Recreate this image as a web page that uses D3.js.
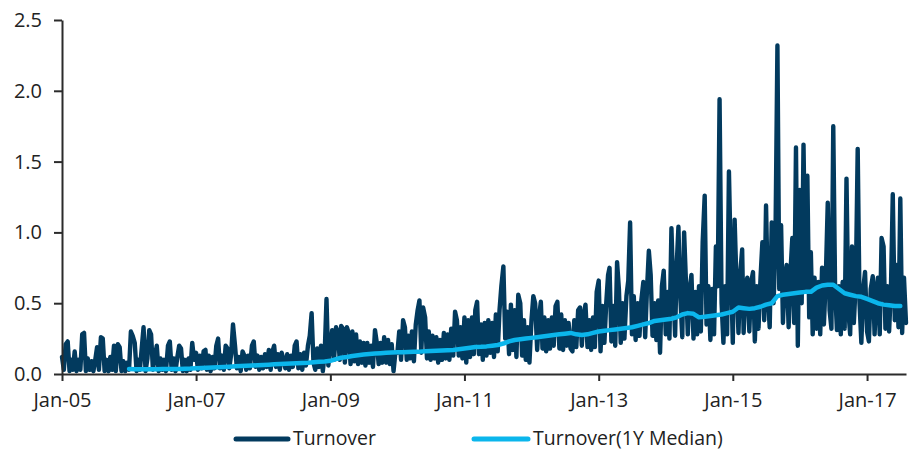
<!DOCTYPE html>
<html><head><meta charset="utf-8">
<script src="https://cdn.jsdelivr.net/npm/d3@7/dist/d3.min.js"></script>
<style>
html,body{margin:0;padding:0;background:#fff;}
svg text{font-family:"Open Sans",sans-serif;}
</style></head>
<body><svg id="chart" width="912" height="450"></svg>
<script>
// Turnover, ~3 readings per month (1st, 11th, 21st), by year
const turnover2005 = [0.12,0.03,0.21,0.23,0.02,0.10,0.03,0.16,0.02,0.10,0.03,0.28,0.29,0.02,0.11,0.03,0.09,0.02,0.10,0.19,0.03,0.26,0.25,0.02,0.10,0.02,0.12,0.03,0.20,0.02,0.21,0.19,0.02,0.09,0.02,0.08];
const turnover2006 = [0.03,0.30,0.27,0.22,0.02,0.10,0.03,0.18,0.33,0.02,0.11,0.31,0.28,0.03,0.12,0.20,0.02,0.11,0.03,0.10,0.02,0.20,0.23,0.03,0.11,0.02,0.12,0.20,0.18,0.02,0.10,0.02,0.11,0.03,0.22,0.10];
const turnover2007 = [0.15,0.03,0.13,0.04,0.16,0.17,0.03,0.13,0.02,0.12,0.04,0.20,0.25,0.04,0.13,0.03,0.20,0.18,0.04,0.14,0.35,0.20,0.04,0.12,0.02,0.16,0.13,0.03,0.13,0.04,0.20,0.23,0.05,0.13,0.03,0.12];
const turnover2008 = [0.04,0.14,0.05,0.17,0.03,0.16,0.20,0.05,0.14,0.03,0.15,0.10,0.04,0.14,0.03,0.13,0.05,0.20,0.23,0.04,0.14,0.03,0.15,0.06,0.20,0.27,0.43,0.08,0.03,0.18,0.05,0.20,0.02,0.14,0.53,0.06];
const turnover2009 = [0.20,0.31,0.10,0.33,0.30,0.10,0.34,0.32,0.08,0.33,0.29,0.07,0.30,0.09,0.28,0.07,0.23,0.08,0.22,0.06,0.22,0.08,0.20,0.05,0.31,0.22,0.07,0.22,0.08,0.26,0.08,0.24,0.07,0.21,0.02,0.15];
const turnover2010 = [0.15,0.30,0.10,0.38,0.33,0.10,0.27,0.11,0.30,0.09,0.35,0.45,0.52,0.15,0.47,0.40,0.11,0.30,0.10,0.27,0.11,0.26,0.08,0.24,0.10,0.29,0.11,0.28,0.10,0.32,0.13,0.44,0.38,0.13,0.33,0.11];
const turnover2011 = [0.40,0.08,0.38,0.12,0.40,0.14,0.45,0.51,0.14,0.35,0.10,0.36,0.13,0.38,0.15,0.36,0.12,0.42,0.16,0.45,0.62,0.76,0.25,0.44,0.14,0.49,0.17,0.45,0.12,0.56,0.50,0.13,0.38,0.10,0.33,0.08];
const turnover2012 = [0.38,0.55,0.50,0.17,0.40,0.51,0.18,0.40,0.16,0.38,0.18,0.40,0.20,0.48,0.51,0.18,0.42,0.17,0.38,0.20,0.36,0.18,0.16,0.38,0.19,0.45,0.47,0.20,0.42,0.49,0.19,0.38,0.17,0.40,0.19,0.58];
const turnover2013 = [0.66,0.16,0.48,0.22,0.50,0.70,0.75,0.23,0.48,0.20,0.79,0.60,0.22,0.50,0.25,0.55,0.66,1.07,0.28,0.55,0.24,0.50,0.27,0.52,0.65,0.26,0.60,0.87,0.70,0.27,0.50,0.24,0.52,0.15,0.62,0.73];
const turnover2014 = [0.28,0.58,0.25,1.03,0.60,0.27,0.75,1.04,0.55,0.26,1.00,0.65,0.28,0.60,0.70,0.25,0.58,0.28,0.62,0.30,0.93,1.26,0.35,0.62,0.24,0.60,0.28,0.90,0.62,1.94,0.50,0.22,0.62,0.28,1.43,0.80];
const turnover2015 = [0.22,1.09,0.65,0.29,0.72,0.88,0.29,0.62,0.68,0.30,0.65,0.72,0.23,0.62,0.32,0.68,0.93,0.38,1.19,0.55,0.33,1.07,0.50,0.90,2.32,0.60,1.05,0.36,0.68,0.77,0.33,0.72,0.96,0.36,1.60,0.20];
const turnover2016 = [1.30,0.50,1.62,0.60,1.40,0.40,0.86,0.28,0.68,0.32,0.65,0.28,0.75,0.35,0.66,1.21,0.45,0.32,1.75,0.60,0.31,0.62,0.28,0.65,0.32,1.38,0.45,0.28,0.90,0.36,0.66,1.59,0.50,0.22,0.60,0.72];
const turnover2017 = [0.30,0.23,0.60,0.69,0.28,0.60,0.68,0.28,0.96,0.90,0.32,0.62,0.30,0.60,1.27,0.38,0.77,0.33,1.24,0.29,0.68,0.36];

// Turnover (1Y median), monthly from Jan-06
const median2006 = [0.035,0.034,0.034,0.033,0.033,0.034,0.035,0.035,0.036,0.036,0.037,0.038];
const median2007 = [0.040,0.042,0.044,0.046,0.048,0.050,0.052,0.054,0.056,0.058,0.060,0.062];
const median2008 = [0.064,0.066,0.068,0.070,0.072,0.074,0.076,0.078,0.080,0.083,0.086,0.089];
const median2009 = [0.093,0.105,0.115,0.120,0.127,0.132,0.137,0.141,0.144,0.147,0.150,0.152];
const median2010 = [0.153,0.154,0.155,0.157,0.158,0.160,0.162,0.164,0.166,0.168,0.170,0.175];
const median2011 = [0.180,0.185,0.190,0.192,0.195,0.200,0.205,0.215,0.230,0.240,0.245,0.250];
const median2012 = [0.255,0.260,0.265,0.270,0.275,0.280,0.285,0.290,0.280,0.275,0.280,0.290];
const median2013 = [0.300,0.305,0.310,0.315,0.320,0.325,0.330,0.340,0.350,0.360,0.375,0.380];
const median2014 = [0.385,0.390,0.400,0.420,0.430,0.425,0.400,0.405,0.410,0.415,0.420,0.430];
const median2015 = [0.440,0.470,0.465,0.460,0.465,0.475,0.490,0.500,0.550,0.560,0.565,0.570];
const median2016 = [0.575,0.580,0.580,0.610,0.625,0.630,0.630,0.600,0.570,0.560,0.550,0.545];
const median2017 = [0.530,0.515,0.500,0.490,0.485,0.480,0.480];

const yTicks = [0, 0.5, 1.0, 1.5, 2.0, 2.5];
const xTickYears = [2005, 2007, 2009, 2011, 2013, 2015, 2017];
const seriesNames = ["Turnover", "Turnover(1Y Median)"];

const turnoverByYear = [[2005,turnover2005],[2006,turnover2006],[2007,turnover2007],[2008,turnover2008],[2009,turnover2009],[2010,turnover2010],[2011,turnover2011],[2012,turnover2012],[2013,turnover2013],[2014,turnover2014],[2015,turnover2015],[2016,turnover2016],[2017,turnover2017]];
const medianByYear = [[2006,median2006],[2007,median2007],[2008,median2008],[2009,median2009],[2010,median2010],[2011,median2011],[2012,median2012],[2013,median2013],[2014,median2014],[2015,median2015],[2016,median2016],[2017,median2017]];

const turnoverData = [];
turnoverByYear.forEach(([yr, vals]) => vals.forEach((v, i) => {
  turnoverData.push({date: new Date(yr, Math.floor(i/3), 1 + (i%3)*10), value: v});
}));
const medianData = [];
medianByYear.forEach(([yr, vals]) => vals.forEach((v, i) => {
  medianData.push({date: new Date(yr, i, 1), value: v});
}));

const C = {dark: "#023a5e", light: "#0bb6ec", axis: "#2b2b2b", text: "#222"};
const L = {left: 62, right: 906, top: 20, bottom: 374};

const svg = d3.select("#chart");
const x = d3.scaleTime().domain([new Date(2005,0,1), new Date(2017,7,1)]).range([L.left, L.right]);
const y = d3.scaleLinear().domain([0, 2.5]).range([L.bottom, L.top]);

const line = d3.line().x(d => x(d.date)).y(d => y(d.value));

svg.append("path").datum(turnoverData)
  .attr("d", line).attr("fill", "none")
  .attr("stroke", C.dark).attr("stroke-width", 4.4)
  .attr("stroke-linejoin", "round").attr("stroke-linecap", "round");

svg.append("path").datum(medianData)
  .attr("d", line).attr("fill", "none")
  .attr("stroke", C.light).attr("stroke-width", 4.5)
  .attr("stroke-linejoin", "round").attr("stroke-linecap", "round");

// Axes
const yAxis = d3.axisLeft(y).tickValues(yTicks).tickFormat(d3.format(".1f")).tickSize(8).tickPadding(12).tickSizeOuter(0);
const gy = svg.append("g").attr("transform", `translate(${L.left},0)`).call(yAxis);
const xAxis = d3.axisBottom(x).tickValues(xTickYears.map(yr => new Date(yr,0,1)))
  .tickFormat(d3.timeFormat("%b-%y")).tickSize(7).tickPadding(12).tickSizeOuter(0);
const gx = svg.append("g").attr("transform", `translate(0,${L.bottom})`).call(xAxis);

[gx, gy].forEach(g => {
  g.select(".domain").attr("stroke", C.axis).attr("stroke-width", 2);
  g.selectAll(".tick line").attr("stroke", C.axis).attr("stroke-width", 2);
  g.selectAll(".tick text").attr("fill", C.text).style("font-size", "20px").style("font-family", '"Open Sans", sans-serif');
});

// Legend
const legend = svg.append("g");
const legendItems = [
  {name: seriesNames[0], color: C.dark, x0: 236, x1: 288, tx: 293},
  {name: seriesNames[1], color: C.light, x0: 474, x1: 528, tx: 533}
];
legendItems.forEach(it => {
  legend.append("line").attr("x1", it.x0).attr("x2", it.x1).attr("y1", 439).attr("y2", 439)
    .attr("stroke", it.color).attr("stroke-width", 5).attr("stroke-linecap", "round");
  legend.append("text").attr("x", it.tx).attr("y", 439).attr("dy", "0.33em")
    .attr("fill", C.text).style("font-size", "19.5px").text(it.name);
});
</script>
</body></html>
